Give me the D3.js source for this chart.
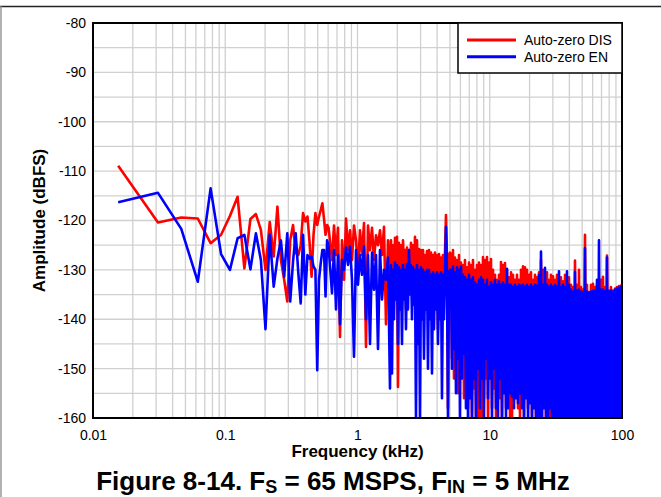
<!DOCTYPE html>
<html><head><meta charset="utf-8">
<script src="https://cdn.jsdelivr.net/npm/d3@7"></script>
<style>
body{margin:0;background:#fff;}
svg{display:block;font-family:"Liberation Sans",Arial,sans-serif;}
</style>
</head><body>
<svg id="c" width="661" height="497"></svg>
<script>
// ---- data ----
const freqKHz = [
0.0155,0.031,0.0465,0.062,0.0775,0.093,0.1085,0.124,0.1395,0.155,0.1705,0.186,0.2015,0.217,0.2325,0.248,0.2635,0.279,0.2945,0.31,
0.3255,0.341,0.3565,0.372,0.3875,0.403,0.4185,0.434,0.4495,0.465,0.4805,0.496,0.5115,0.527,0.5425,0.558,0.5735,0.589,0.6045,
0.6415,0.6643,0.6878,0.7122,0.7374,0.7636,0.7906,0.8186,0.8476,0.8777,0.9088,0.9409,0.9742,1.0087,1.0445,1.0815,1.1198,1.1595,1.2005,1.2431,
1.2871,1.3327,1.3799,1.4288,1.4794,1.5318,1.5861,1.6423,1.7005,1.7607,
1.7916,1.8231,1.8551,1.8877,1.9209,1.9546,1.9889,2.0238,2.0594,2.0955,2.1323,2.1698,2.2079,2.2466,2.2861,2.3262,2.3671,2.4087,2.451,2.494,
2.5378,2.5823,2.6277,2.6738,2.7208,2.7686,2.8172,2.8667,2.9171,2.9682,3.0204,3.0734,3.1274,3.1823,3.2382,3.295,3.3529,3.4118,3.4717,3.5326,
3.5947,3.6578,3.7221,3.7874,3.8539,3.9216,3.9905,4.0606,4.1319,4.2044,4.2783,4.3534,4.4299,4.5076,4.5868,4.6673,4.7493,4.8327,4.9176,5.0039,
5.0918,5.1812,5.2722,5.3648,5.4591,5.5549,5.6525,5.7517,5.8528,5.9555,6.0601,6.1665,6.2748,6.385,6.4972,6.6112,6.7274,6.8455,6.9658,7.088,
7.2125,7.3392,7.4681,7.5992,7.7327,7.8685,8.0067,8.1473,8.2904,8.436,8.5842,8.7349,8.8884,9.0444,9.2033,9.3648,9.5293,9.6967,9.8671,10.044,
10.22,10.4,10.583,10.768,10.957,11.15,11.346,11.545,11.748,11.954,12.164,12.377,12.594,12.816,13.041,13.27,13.503,13.74,13.981,14.227,
14.477,14.731,14.99,15.253,15.521,15.793,16.07,16.353,16.64,16.932,17.229,17.532,17.84,18.153,18.472,18.796,19.126,19.462,19.804,20.152,
20.506,20.866,21.233,21.605,21.985,22.371,22.764,23.163,23.57,23.984,24.405,24.834,25.27,25.714,26.166,26.625,27.093,27.568,28.052,28.545,
29.047,29.556,30.075,30.603,31.141,31.688,32.245,32.81,33.386,33.973,34.57,35.177,35.795,36.423,37.063,37.713,38.376,39.05,39.736,40.433,
41.143,41.866,42.602,43.349,44.111,44.885,45.674,46.475,47.292,48.122,48.967,49.827,50.702,51.592,52.498,53.42,54.359,55.313,56.285,57.273,
58.279,59.302,60.344,61.403,62.482,63.579,64.696,65.831,66.988,68.164,69.362,70.579,71.819,73.08,74.364,75.669,76.999,78.35,79.727,81.126,
82.551,84.001,85.477,86.977,88.505,90.059,91.641,93.25,94.888,96.554,98.25,100
];
const autoZeroDis = [
-108.9,-120.4,-119.4,-119.6,-124.6,-122.9,-119.1,-115.2,-129.7,-119.7,-118.7,-121.9,-130,-120.3,-127.3,-117.2,-128,-132,-136.4,-124,
-120.9,-126.6,-127,-125,-118.5,-120.2,-119.2,-124.4,-131.4,-122.9,-118.5,-120.9,-119.2,-117.9,-116.5,-119.6,-122.9,-120.9,-121.5,
-128,-121,-127,-121.5,-143.6,-124,-132,-119.6,-126,-122,-128,-121,-124,-130,-122,-127,-120.5,-145.6,-121,-126,
-121.5,-128,-123,-125,-122,-127,-121.3,-141,-124,-132,
-124,-130,-125,-135,-123.5,-129,-123.3,-153.7,-124.5,-131,-125,-133,-124,-129,-126,-138,-125.5,-130,-126,-134,
-124.5,-130,-125,-136,-123.3,-131,-124,-133,-125.8,-130,-126,-140,-126,-131,-127,-135,-126.2,-131,-126,-137,
-126.5,-132,-127,-135,-126.5,-131,-127,-142,-126.8,-132,-127.5,-138,-127,-133,-126.5,-118.9,-127.5,-158,-127,-126.5,
-127,-148,-126,-152,-127.5,-145,-128,-155,-127,-150,-128.5,-148,-129,-156,-128,-150,-129.5,-158,-128.5,-152,
-129,-160,-128,-154,-130,-160,-129,-160,-128.5,-160,-129,-160,-127.4,-156,-128,-152,-127.4,-160,-128.5,-150,
-127.8,-158,-130,-154,-131,-160,-132,-150,-131,-156,-128.4,-160,-129,-152,-128.6,-158,-130,-150,-131.5,-160,
-130.5,-160,-131,-156,-132,-150,-131,-158,-132,-160,-130,-152,-129.3,-160,-129.5,-150,-130,-158,-131,-155,
-130.5,-160,-132,-152,-131,-160,-131.5,-156,-130.5,-158,-128,-160,-130,-154,-131,-160,-130.5,-156,-132,-160,
-131,-152,-131.3,-160,-132,-158,-131,-160,-132,-155,-131.5,-160,-132.3,-158,-131,-160,-132,-156,-131.5,-160,
-133,-160,-133.5,-160,-128.1,-160,-133,-160,-130,-160,-133.5,-160,-134,-160,-122.9,-160,-133,-160,-134.5,-160,
-133,-160,-132.8,-160,-133.5,-160,-133,-160,-134,-160,-132,-160,-131.4,-160,-133.5,-160,-127.1,-160,-134.2,-160,
-133.5,-160,-134.2,-160,-133.8,-160,-133.5,-160,-133.3,-160,-133.2,-133
];
const autoZeroEn = [
-116.3,-114.4,-121.7,-132.4,-113.5,-126.8,-130,-123.6,-122.9,-129.9,-122.6,-128,-142,-122.9,-133.4,-127.7,-124,-131.4,-122.6,-136.4,
-128.3,-122.6,-130.5,-136.8,-122.9,-135,-127,-127.7,-127.3,-129.3,-130,-150.3,-132,-128.7,-126,-126,-135.4,-124,-125.3,
-134.7,-126,-138,-127,-141,-128,-130,-125.5,-129,-125.3,-132,-147.6,-126,-133,-127,-131,-125.3,-140,-127,-145,
-126.5,-134,-127,-146,-126,-136,-130,-132,-127.5,-154,
-129,-151,-130,-140,-128.5,-136,-129,-145,-129.5,-138,-130,-145,-129,-136,-130,-142,-128.8,-138,-126,-135,
-129,-140,-129.5,-137,-130,-160,-129,-145,-130,-160,-129.5,-140,-130,-148,-130.5,-138,-130,-150,-130,-140,
-131,-151,-130.5,-142,-131,-138,-130.5,-145,-131,-140,-130.5,-156,-131,-140,-131,-121.3,-131,-160,-130.5,-130,
-130,-150,-129.3,-146,-130.5,-155,-129.5,-148,-130,-160,-129.3,-152,-131,-147,-131.5,-158,-132,-160,-131,-156,
-132,-160,-131.5,-152,-132.5,-160,-133,-150,-132,-158,-131.5,-152,-132,-160,-133,-148,-132,-156,-133.4,-152,
-132.5,-160,-133,-150,-132,-158,-133,-160,-132.3,-152,-133,-160,-132.5,-155,-133,-160,-129.8,-158,-133,-155,
-133,-155.7,-133.5,-158,-133,-156,-133.5,-157,-133,-155,-133.2,-158,-133,-160,-133.5,-156,-133,-160,-133.5,-157,
-133,-160,-133.5,-158,-133,-160,-133.2,-160,-131,-160,-126.3,-160,-133,-158,-129.6,-160,-133,-160,-133.4,-158,
-133,-160,-133.5,-160,-133,-160,-133.3,-160,-130.3,-160,-133.5,-160,-133,-160,-133.5,-160,-130.3,-160,-133,-160,
-134,-160,-134.4,-160,-130.4,-160,-134.2,-160,-134,-160,-134.4,-160,-134.5,-160,-125.6,-160,-134.4,-160,-134.6,-160,
-134.4,-160,-134.3,-160,-134.2,-160,-132,-160,-124,-160,-134,-160,-134,-160,-134.3,-160,-127.5,-160,-134.4,-160,
-134.2,-160,-134.4,-160,-134,-160,-133.8,-160,-133.6,-160,-133.5,-133.3
];
const seriesNames = ["Auto-zero DIS", "Auto-zero EN"];
const seriesColors = ["#ff0000", "#0000ff"];
const xTickValues = [0.01, 0.1, 1, 10, 100];
const xTickLabels = ["0.01", "0.1", "1", "10", "100"];
const yTickValues = [-160, -150, -140, -130, -120, -110, -100, -90, -80];
const yTickLabels = ["-160", "-150", "-140", "-130", "-120", "-110", "-100", "-90", "-80"];
const xTitle = "Frequency (kHz)";
const yTitle = "Amplitude (dBFS)";

// ---- layout ----
const svg = d3.select("#c");
const L = 93, R = 622, T = 23, B = 418;
const x = d3.scaleLog().domain([0.01, 100]).range([L, R]);
const y = d3.scaleLinear().domain([-160, -80]).range([B, T]);

// outer figure frame (top & left)
svg.append("line").attr("x1", 0).attr("x2", 661).attr("y1", 6.5).attr("y2", 6.5)
  .attr("stroke", "#222").attr("stroke-width", 1.3);
svg.append("line").attr("x1", 1).attr("x2", 1).attr("y1", 6).attr("y2", 497)
  .attr("stroke", "#888").attr("stroke-width", 1.3);

// grid
const grid = svg.append("g");
grid.selectAll("line.v").data(x.ticks()).join("line")
  .attr("x1", d => x(d)).attr("x2", d => x(d)).attr("y1", T).attr("y2", B)
  .attr("stroke", "#d0d0d0").attr("stroke-width", 1.3);
grid.selectAll("line.h").data(y.ticks(16)).join("line")
  .attr("x1", L).attr("x2", R).attr("y1", d => y(d)).attr("y2", d => y(d))
  .attr("stroke", "#d0d0d0").attr("stroke-width", 1.3);

// data
svg.append("clipPath").attr("id", "pc").append("rect")
  .attr("x", L).attr("y", T).attr("width", R - L).attr("height", B - T);
const line = d3.line().x(d => x(d[0])).y(d => y(d[1]));
const series = [autoZeroDis, autoZeroEn];
series.forEach((vals, i) => {
  svg.append("path")
    .attr("clip-path", "url(#pc)")
    .attr("d", line(freqKHz.map((f, k) => [f, vals[k]])))
    .attr("fill", "none").attr("stroke", seriesColors[i])
    .attr("stroke-width", 2.6).attr("stroke-linejoin", "round");
});

// plot frame
svg.append("rect").attr("x", L).attr("y", T).attr("width", R - L).attr("height", B - T)
  .attr("fill", "none").attr("stroke", "#000").attr("stroke-width", 2);

// axes
const xa = svg.append("g").attr("transform", `translate(0,${B})`)
  .call(d3.axisBottom(x).tickValues(xTickValues).tickFormat((d, i) => xTickLabels[i]).tickSize(0).tickPadding(12));
const ya = svg.append("g").attr("transform", `translate(${L},0)`)
  .call(d3.axisLeft(y).tickValues(yTickValues).tickFormat((d, i) => yTickLabels[i]).tickSize(0).tickPadding(7));
[xa, ya].forEach(a => {
  a.select(".domain").remove();
  a.selectAll("text").attr("font-size", 14).attr("fill", "#000")
    .attr("font-family", "'Liberation Sans', Arial, sans-serif");
});

// axis titles
svg.append("text").attr("x", (L + R) / 2).attr("y", 457).attr("text-anchor", "middle")
  .attr("font-size", 17).attr("font-weight", "bold").text(xTitle);
svg.append("text").attr("transform", `translate(45,${(T + B) / 2}) rotate(-90)`)
  .attr("text-anchor", "middle").attr("font-size", 17).attr("font-weight", "bold").text(yTitle);

// legend
const lg = svg.append("g");
lg.append("rect").attr("x", 458).attr("y", T).attr("width", R - 458).attr("height", 50)
  .attr("fill", "#fff").attr("stroke", "#000").attr("stroke-width", 1.5);
seriesNames.forEach((n, i) => {
  const yy = 40 + i * 16.7;
  lg.append("line").attr("x1", 467).attr("x2", 516).attr("y1", yy).attr("y2", yy)
    .attr("stroke", seriesColors[i]).attr("stroke-width", 3);
  lg.append("text").attr("x", 524).attr("y", yy + 5).attr("font-size", 14).text(n);
});

// figure caption
const cap = svg.append("text").attr("x", 333).attr("y", 490).attr("text-anchor", "middle")
  .attr("font-size", 26).attr("font-weight", "bold");
cap.append("tspan").text("Figure 8-14. F");
cap.append("tspan").attr("font-size", 18).attr("dy", 3).text("S");
cap.append("tspan").attr("dy", -3).text(" = 65 MSPS, F");
cap.append("tspan").attr("font-size", 18).attr("dy", 3).text("IN");
cap.append("tspan").attr("dy", -3).text(" = 5 MHz");
</script>
</body></html>
